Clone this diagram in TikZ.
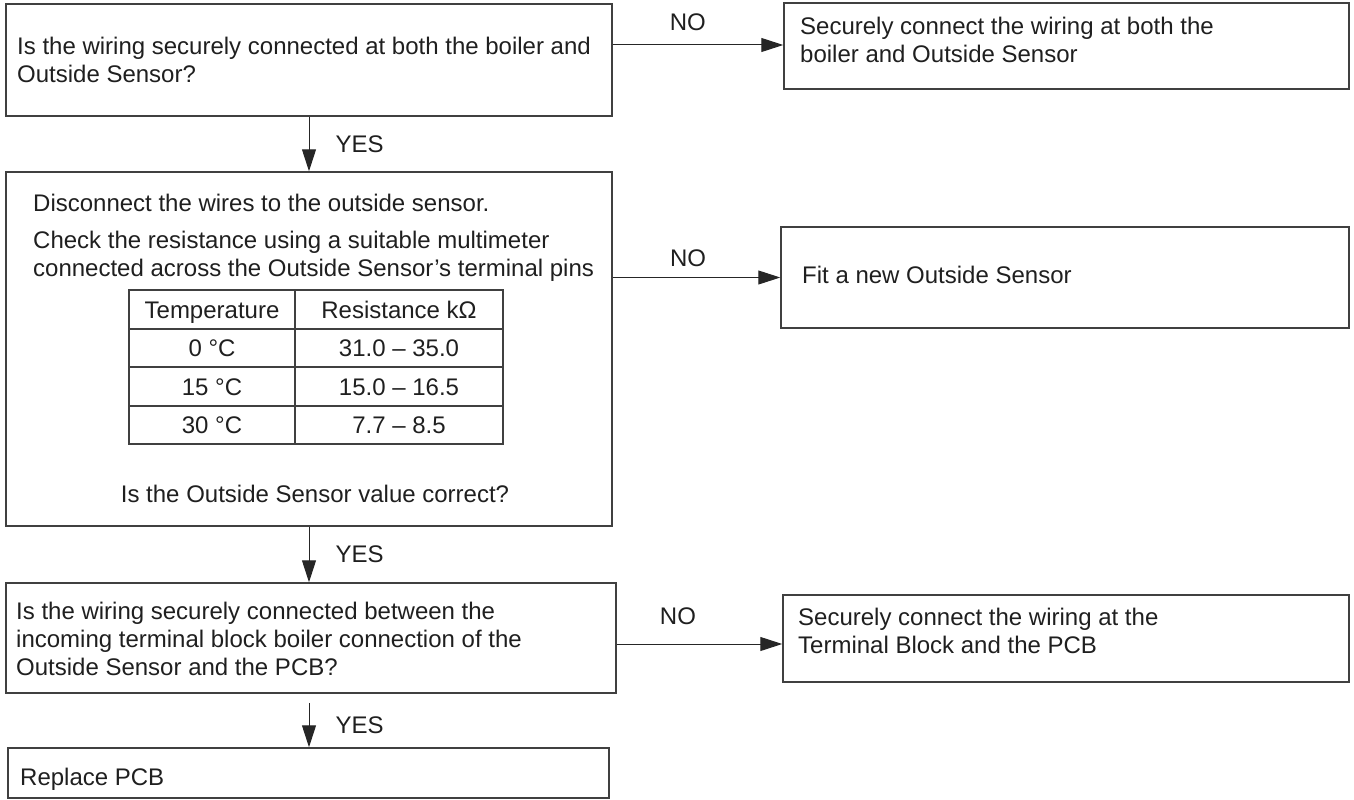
\documentclass[tikz,border=0pt]{standalone}
\usepackage{fontspec}
\setmainfont{Liberation Sans}
\usetikzlibrary{arrows.meta,positioning}

\begin{document}
\begin{tikzpicture}[x=1pt,y=-1pt]
    \tikzstyle{box}=[draw=black!75,line width=1.5pt,inner sep=0pt]
    \tikzstyle{txt}=[inner sep=0pt,anchor=north west,align=left,text=black!88,
        font=\fontsize{24pt}{28pt}\selectfont]
    \tikzstyle{lbl}=[inner sep=0pt,text=black!88,font=\fontsize{24pt}{28pt}\selectfont]
    \tikzstyle{flow}=[line width=1pt,draw=black!85,-{Triangle[length=22pt,width=14pt]}]
    \tikzstyle{grid}=[line width=1.4pt,draw=black!75]
    \useasboundingbox (0,0) rectangle (1354,800);
    % Boxes
    \node[box,minimum width=606pt,minimum height=112pt] (check1) at (309,60) {};
    \node[box,minimum width=565pt,minimum height=86pt] (fix1) at (1066.5,46) {};
    \node[box,minimum width=606pt,minimum height=354pt] (check2) at (309,349) {};
    \node[box,minimum width=568pt,minimum height=101pt] (fix2) at (1065,277.5) {};
    \node[box,minimum width=610pt,minimum height=110pt] (check3) at (311,638) {};
    \node[box,minimum width=566pt,minimum height=87pt] (fix3) at (1066,638.5) {};
    \node[box,minimum width=601pt,minimum height=50pt] (replace) at (308.5,773) {};
    % Texts
    \node[txt] (check1-t) at (17,36.8) {Is the wiring securely connected at both the boiler and\\Outside Sensor?};
    \node[txt] (fix1-t) at (800,16.8) {Securely connect the wiring at both the\\boiler and Outside Sensor};
    \node[txt] (check2-a) at (33,193.8) {Disconnect the wires to the outside sensor.};
    \node[txt] (check2-b) at (33,230.8) {Check the resistance using a suitable multimeter\\connected across the Outside Sensor’s terminal pins};
    \node[lbl,anchor=base] (check2-c) at (315,502) {Is the Outside Sensor value correct?};
    \node[txt] (fix2-t) at (802,265.8) {Fit a new Outside Sensor};
    \node[txt] (check3-t) at (16,601.8) {Is the wiring securely connected between the\\incoming terminal block boiler connection of the\\Outside Sensor and the PCB?};
    \node[txt] (fix3-t) at (798,607.8) {Securely connect the wiring at the\\Terminal Block and the PCB};
    \node[txt] (replace-t) at (20,767.8) {Replace PCB};
    % Table
    \draw[grid] (129,290) rectangle (503,444);
    \foreach \y in {329,367,406} \draw[grid] (129,\y) -- (503,\y);
    \draw[grid] (295,290) -- (295,444);
    \foreach \a/\b/\y [count=\i] in {Temperature/Resistance kΩ/318,
        0 °C/31.0 – 35.0/356.5, 15 °C/15.0 – 16.5/395, 30 °C/7.7 – 8.5/433.5} {
        \node[lbl,anchor=base] (temp-\i) at (212,\y) {\a};
        \node[lbl,anchor=base] (res-\i) at (399,\y) {\b};
    }
    % Arrows
    \coordinate (no1) at ([yshift=15pt]check1.east);
    \draw[flow] (no1) -- (no1 -| fix1.west) node[lbl,above=14pt,pos=0.44] (no1-l) {NO};
    \draw[flow] (fix2.west -| check2.east) -- (fix2.west) node[lbl,above=10.5pt,pos=0.45] (no2-l) {NO};
    \coordinate (no3) at ([yshift=-6pt]check3.east);
    \draw[flow] (no3) -- (no3 -| fix3.west) node[lbl,above=19pt,pos=0.37] (no3-l) {NO};
    \draw[flow] (check1.south) -- (check2.north) node[lbl,right=26pt,pos=0.5] (yes1-l) {YES};
    \draw[flow] (check2.south) -- (check2.south |- check3.north) node[lbl,right=26pt,pos=0.5] (yes2-l) {YES};
    \coordinate (yes3) at (check2.south |- check3.south);
    \draw[flow] ([yshift=-9pt]yes3) -- (yes3 |- replace.north) node[lbl,right=26pt,pos=0.5] (yes3-l) {YES};
\end{tikzpicture}
\end{document}
